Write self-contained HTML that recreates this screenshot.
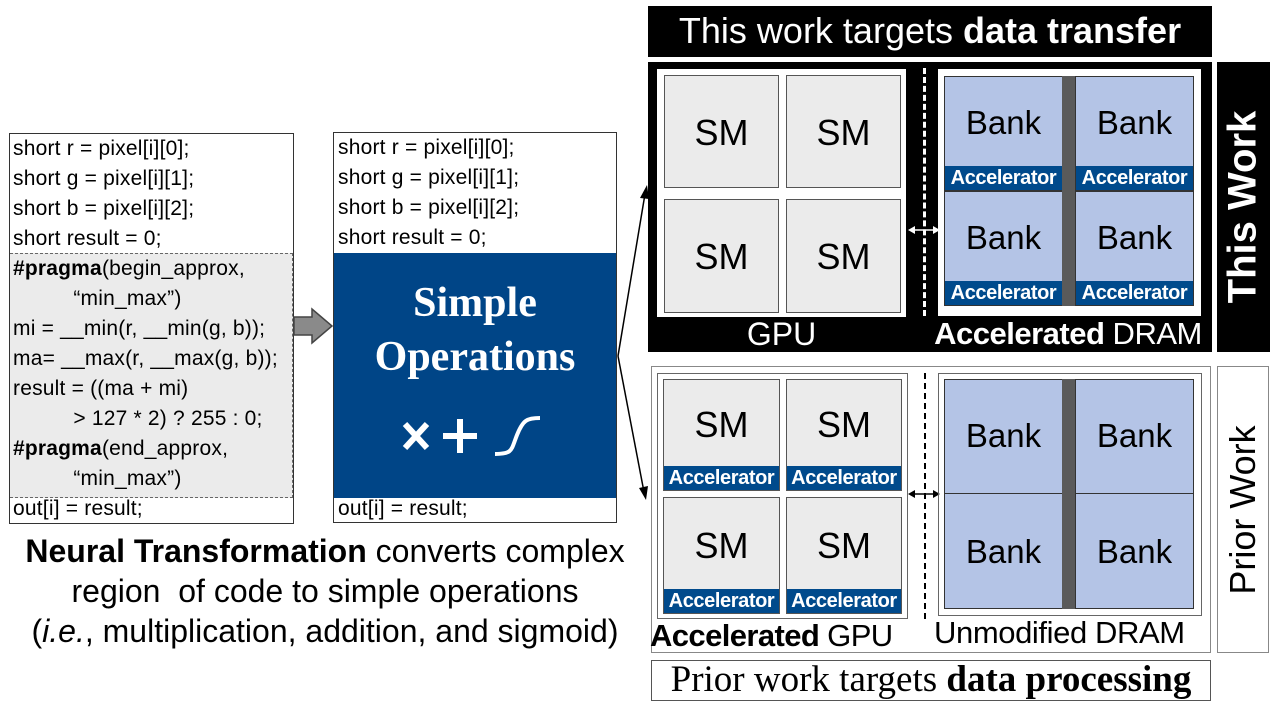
<!DOCTYPE html>
<html><head><meta charset="utf-8"><style>
*{margin:0;padding:0;box-sizing:border-box}
body{width:1272px;height:705px;background:#fff;position:relative;overflow:hidden;font-family:"Liberation Sans",sans-serif}
.a{position:absolute}
.code{font-size:21px;line-height:30px;white-space:pre;color:#000;letter-spacing:0.2px}
.sm{position:absolute;background:#ebebeb;border:1px solid #555;font-size:36px;text-align:center}
.bank{position:absolute;background:#b4c4e6;border:1px solid #333;font-size:33px;text-align:center}
.acc{position:absolute;left:0;right:0;bottom:0;height:24px;background:#004a8c;color:#fff;font-weight:bold;font-size:20px;line-height:24px;text-align:center;letter-spacing:-0.4px}
.c{text-align:center;white-space:nowrap}
</style></head><body>

<div class="a" style="left:9px;top:133px;width:285px;height:391px;border:1px solid #333"></div>
<div class="a" style="left:10px;top:253px;width:283px;height:245px;background:#ebebeb;border-top:1px dashed #666;border-bottom:1px dashed #666;border-right:1px dashed #666"></div>
<div class="a code" style="left:13px;top:134px">short r = pixel[i][0];
short g = pixel[i][1];
short b = pixel[i][2];
short result = 0;
<b>#pragma</b>(begin_approx,
          “min_max”)
mi = __min(r, __min(g, b));
ma= __max(r, __max(g, b));
result = ((ma + mi)
          > 127 * 2) ? 255 : 0;
<b>#pragma</b>(end_approx,
          “min_max”)
out[i] = result;</div>

<svg class="a" style="left:290px;top:305px" width="46" height="42"><polygon points="4,12 22,12 22,4 42,21 22,38 22,30 4,30" fill="#8a8a8a" stroke="#444" stroke-width="1.5"/></svg>

<div class="a" style="left:333px;top:132px;width:284px;height:391px;border:1px solid #333"></div>
<div class="a" style="left:334px;top:253px;width:282px;height:245px;background:#004587"></div>
<div class="a code" style="left:338px;top:133px">short r = pixel[i][0];
short g = pixel[i][1];
short b = pixel[i][2];
short result = 0;</div>
<div class="a code" style="left:338px;top:494px">out[i] = result;</div>
<div class="a c" style="left:334px;width:282px;top:276px;color:#fff;font-family:'Liberation Serif',serif;font-weight:bold;font-size:42px;line-height:54px">Simple<br>Operations</div>
<svg class="a" style="left:395px;top:410px" width="170" height="55">
<g stroke="#fff" stroke-width="6" fill="none"><line x1="10" y1="14" x2="32" y2="38"/><line x1="32" y1="14" x2="10" y2="38"/>
<line x1="48" y1="26" x2="82" y2="26"/><line x1="65" y1="9" x2="65" y2="43"/>
<path d="M100 44 C118 44 116 40 122 25 C128 10 132 8 145 8" stroke-width="4"/></g></svg>

<svg class="a" style="left:600px;top:160px" width="60" height="360">
<g stroke="#000" stroke-width="1.5" fill="none"><line x1="18" y1="196" x2="45" y2="34"/><line x1="18" y1="196" x2="44" y2="332"/></g>
<polygon points="47,25 40,38 49,39" fill="#000"/><polygon points="46,340 39,328 48,326" fill="#000"/>
</svg>

<div class="a c" style="left:0;width:650px;top:531px;font-size:32px;line-height:40px;letter-spacing:0px"><b>Neural Transformation</b> converts complex<br>region&nbsp; of code to simple operations<br>(<i>i.e.</i>, multiplication, addition, and sigmoid)</div>

<div class="a c" style="left:648px;top:6px;width:564px;height:51px;background:#000;color:#fff;font-size:36px;line-height:49px">This work targets <b>data transfer</b></div>

<div class="a" style="left:648px;top:62px;width:564px;height:290px;background:#000"></div>
<div class="a" style="left:657px;top:69px;width:249px;height:248px;background:#fff"></div>
<div class="sm" style="left:664px;top:75px;width:115px;height:113px;line-height:113px">SM</div>
<div class="sm" style="left:786px;top:75px;width:115px;height:113px;line-height:113px">SM</div>
<div class="sm" style="left:664px;top:199px;width:115px;height:114px;line-height:114px">SM</div>
<div class="sm" style="left:786px;top:199px;width:115px;height:114px;line-height:114px">SM</div>
<div class="a" style="left:923px;top:68px;height:248px;border-left:3px dashed #fff"></div>
<svg class="a" style="left:908px;top:224px" width="32" height="12"><line x1="3" y1="6" x2="29" y2="6" stroke="#fff" stroke-width="1.5"/><polygon points="0,6 7,2 7,10" fill="#fff"/><polygon points="32,6 25,2 25,10" fill="#fff"/></svg>
<div class="a" style="left:938px;top:69px;width:263px;height:247px;background:#fff"></div>
<div class="bank" style="left:944px;top:76px;width:119px;height:115px;line-height:92px">Bank<div class="acc">Accelerator</div></div>
<div class="bank" style="left:1075px;top:76px;width:119px;height:115px;line-height:92px">Bank<div class="acc">Accelerator</div></div>
<div class="bank" style="left:944px;top:191px;width:119px;height:115px;line-height:92px">Bank<div class="acc">Accelerator</div></div>
<div class="bank" style="left:1075px;top:191px;width:119px;height:115px;line-height:92px">Bank<div class="acc">Accelerator</div></div>
<div class="a" style="left:1062px;top:76px;width:13px;height:230px;background:#5a5a5a"></div>
<div class="a c" style="left:657px;width:249px;top:316px;color:#fff;font-size:32px;line-height:36px">GPU</div>
<div class="a c" style="left:918px;width:300px;top:316px;color:#fff;font-size:31px;line-height:36px;letter-spacing:-0.5px"><b>Accelerated</b> DRAM</div>
<div class="a" style="left:1217px;top:62px;width:53px;height:290px;background:#000"></div>
<div class="a c" style="left:1243px;top:207px;transform:translate(-50%,-50%) rotate(-90deg);color:#fff;font-weight:bold;font-size:40px">This Work</div>

<div class="a" style="left:651px;top:366px;width:560px;height:287px;border:1px solid #888"></div>
<div class="a" style="left:657px;top:373px;width:251px;height:246px;border:1px solid #666"></div>
<div class="sm" style="left:663px;top:379px;width:117px;height:112px;line-height:90px">SM<div class="acc">Accelerator</div></div>
<div class="sm" style="left:786px;top:379px;width:116px;height:112px;line-height:90px">SM<div class="acc">Accelerator</div></div>
<div class="sm" style="left:663px;top:497px;width:117px;height:117px;line-height:96px">SM<div class="acc">Accelerator</div></div>
<div class="sm" style="left:786px;top:497px;width:116px;height:117px;line-height:96px">SM<div class="acc">Accelerator</div></div>
<div class="a" style="left:924px;top:373px;height:246px;border-left:2px dashed #000"></div>
<svg class="a" style="left:908px;top:488px" width="32" height="12"><line x1="3" y1="6" x2="29" y2="6" stroke="#000" stroke-width="1.5"/><polygon points="0,6 7,2 7,10" fill="#000"/><polygon points="32,6 25,2 25,10" fill="#000"/></svg>
<div class="a" style="left:938px;top:373px;width:264px;height:243px;border:1px solid #666"></div>
<div class="bank" style="left:944px;top:379px;width:119px;height:115px;line-height:112px">Bank</div>
<div class="bank" style="left:1075px;top:379px;width:119px;height:115px;line-height:112px">Bank</div>
<div class="bank" style="left:944px;top:493px;width:119px;height:116px;line-height:116px">Bank</div>
<div class="bank" style="left:1075px;top:493px;width:119px;height:116px;line-height:116px">Bank</div>
<div class="a" style="left:1062px;top:379px;width:13px;height:230px;background:#5a5a5a"></div>
<div class="a" style="left:650px;top:618px;font-size:31px;line-height:36px;white-space:nowrap;letter-spacing:-0.6px"><b>Accelerated</b> GPU</div>
<div class="a" style="left:934px;top:615px;font-size:31px;line-height:36px;white-space:nowrap;letter-spacing:-0.4px">Unmodified DRAM</div>
<div class="a" style="left:1217px;top:366px;width:52px;height:287px;border:1px solid #888"></div>
<div class="a c" style="left:1243px;top:510px;transform:translate(-50%,-50%) rotate(-90deg);font-size:36px">Prior Work</div>

<div class="a c" style="left:651px;top:660px;width:560px;height:41px;border:1px solid #555;font-family:'Liberation Serif',serif;font-size:37px;line-height:38px">Prior work targets <b>data processing</b></div>
</body></html>
